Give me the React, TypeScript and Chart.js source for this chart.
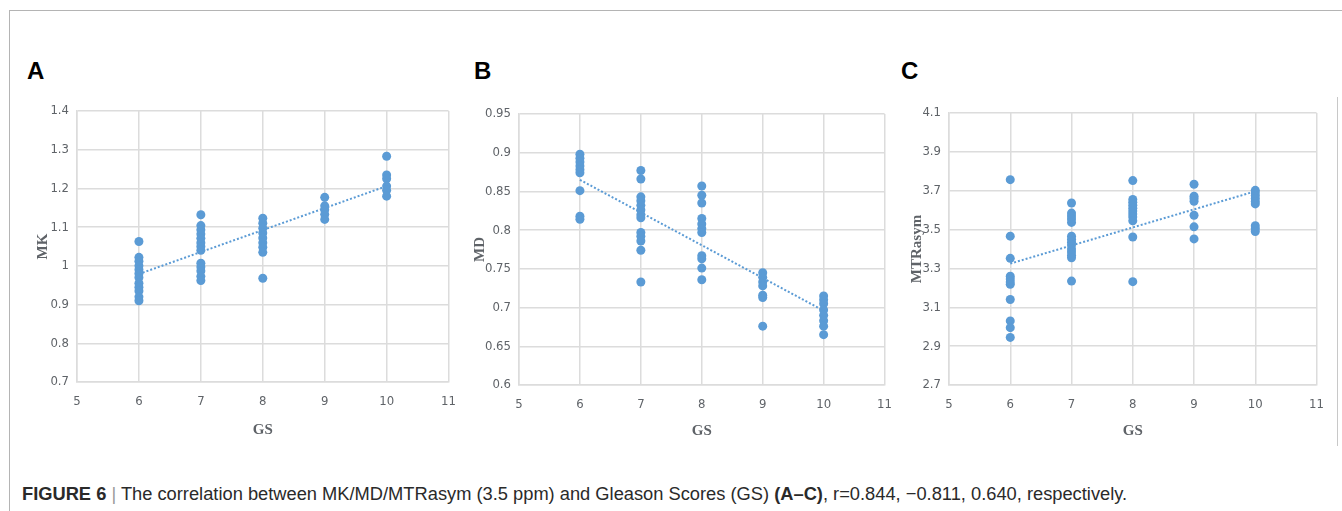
import React, { useEffect, useRef } from "react";
import { Chart, registerables } from "chart.js";
Chart.register(...registerables);

// ---------- data ----------
const gsLevels = [6, 7, 8, 9, 10];
const xTicks = [5, 6, 7, 8, 9, 10, 11];

const mkTicks = [0.7, 0.8, 0.9, 1, 1.1, 1.2, 1.3, 1.4];
const mkValues = [
  [1.063, 1.022, 1.012, 1.0, 0.99, 0.98, 0.97, 0.955, 0.945, 0.935, 0.92, 0.91],
  [1.132, 1.104, 1.093, 1.082, 1.071, 1.06, 1.05, 1.04, 1.007, 0.997, 0.987, 0.973, 0.962],
  [1.123, 1.11, 1.097, 1.085, 1.072, 1.06, 1.048, 1.035, 0.968],
  [1.177, 1.155, 1.145, 1.133, 1.12],
  [1.283, 1.235, 1.225, 1.206, 1.195, 1.18],
];
const mkTrend = [0.979, 1.206];

const mdTicks = [0.6, 0.65, 0.7, 0.75, 0.8, 0.85, 0.9, 0.95];
const mdValues = [
  [0.898, 0.893, 0.888, 0.883, 0.878, 0.874, 0.851, 0.818, 0.814],
  [0.877, 0.866, 0.843, 0.838, 0.832, 0.826, 0.82, 0.816, 0.797, 0.792, 0.786, 0.774, 0.733],
  [0.857, 0.845, 0.835, 0.815, 0.808, 0.802, 0.797, 0.767, 0.763, 0.751, 0.736],
  [0.745, 0.739, 0.733, 0.728, 0.716, 0.713, 0.676],
  [0.715, 0.71, 0.705, 0.697, 0.69, 0.683, 0.676, 0.665],
];
const mdTrend = [0.865, 0.696];

const mtrTicks = [2.7, 2.9, 3.1, 3.3, 3.5, 3.7, 3.9, 4.1];
const mtrValues = [
  [3.757, 3.466, 3.352, 3.26, 3.245, 3.23, 3.218, 3.14, 3.03, 2.995, 2.945],
  [3.637, 3.585, 3.57, 3.555, 3.537, 3.466, 3.45, 3.435, 3.42, 3.4, 3.385, 3.368, 3.355, 3.235],
  [3.752, 3.655, 3.64, 3.625, 3.61, 3.595, 3.58, 3.565, 3.545, 3.462, 3.232],
  [3.733, 3.672, 3.66, 3.646, 3.574, 3.514, 3.452],
  [3.702, 3.69, 3.675, 3.66, 3.645, 3.632, 3.52, 3.505, 3.49],
];
const mtrTrend = [3.325, 3.697];

// ---------- styles ----------
const BLUE = "#5b9bd5";
const GRID = "#dcdcdc";
const TICK_COLOR = "#5f6368";
const TICK_FONT = { family: "'Liberation Sans Narrow', 'DejaVu Sans Condensed', sans-serif", size: 13, lineHeight: 1.2 };
const TITLE_FONT = { family: "'Liberation Serif', 'DejaVu Serif', serif", size: 15, weight: "bold" as const, lineHeight: 1.2 };

type Area = { l: number; t: number; r: number; b: number };

function Panel(props: {
  area: Area;
  yTicks: number[];
  values: number[][];
  trend: number[];
  yTitle: string;
  yTitleX: number;
  xTitleY: number;
}) {
  const { area, yTicks, values, trend, yTitle, yTitleX, xTitleY } = props;
  const ref = useRef<HTMLCanvasElement | null>(null);
  const cLeft = area.l - 70;
  const cTop = 95;
  const cRight = area.r + 12;
  const cBottom = area.b + 62;
  const w = cRight - cLeft;
  const h = cBottom - cTop;

  useEffect(() => {
    if (!ref.current) return;
    const points: { x: number; y: number }[] = [];
    gsLevels.forEach((g, i) => values[i].forEach((v) => points.push({ x: g, y: v })));
    const half = (TITLE_FONT.size * TITLE_FONT.lineHeight) / 2;
    const chart = new Chart(ref.current, {
      type: "scatter",
      data: {
        datasets: [
          {
            data: [
              { x: gsLevels[0], y: trend[0] },
              { x: gsLevels[gsLevels.length - 1], y: trend[1] },
            ],
            showLine: true,
            borderColor: BLUE,
            borderWidth: 2,
            borderDash: [2, 2],
            pointRadius: 0,
            fill: false,
          } as any,
          {
            data: points,
            backgroundColor: BLUE,
            borderColor: BLUE,
            borderWidth: 0,
            pointRadius: 4.5,
          },
        ],
      },
      options: {
        animation: false,
        responsive: true,
        maintainAspectRatio: false,
        layout: { padding: { left: 0, top: area.t - cTop, right: cRight - area.r, bottom: 0 } },
        plugins: { legend: { display: false }, tooltip: { enabled: false } },
        events: [],
        scales: {
          x: {
            type: "linear",
            min: xTicks[0],
            max: xTicks[xTicks.length - 1],
            afterBuildTicks: (s: any) => {
              s.ticks = xTicks.map((v) => ({ value: v }));
            },
            afterFit: (s: any) => {
              s.height = cBottom - area.b;
            },
            grid: { color: GRID, lineWidth: 1.5, drawTicks: false },
            border: { display: true, color: GRID, width: 1.5 },
            ticks: { color: TICK_COLOR, font: TICK_FONT, padding: 12, callback: (v: any) => String(v), maxRotation: 0 },
            title: {
              display: true,
              text: "GS",
              color: TICK_COLOR,
              font: TITLE_FONT,
              padding: { top: 0, bottom: cBottom - xTitleY - half },
            },
          },
          y: {
            type: "linear",
            min: yTicks[0],
            max: yTicks[yTicks.length - 1],
            afterBuildTicks: (s: any) => {
              s.ticks = yTicks.map((v) => ({ value: v }));
            },
            afterFit: (s: any) => {
              s.width = area.l - cLeft;
            },
            grid: { color: GRID, lineWidth: 1.5, drawTicks: false },
            border: { display: true, color: GRID, width: 1.5 },
            ticks: { color: TICK_COLOR, font: TICK_FONT, padding: 8, callback: (v: any) => String(v) },
            title: {
              display: true,
              text: yTitle,
              color: TICK_COLOR,
              font: TITLE_FONT,
              padding: { top: yTitleX - cLeft - half, bottom: 0 },
            },
          },
        },
      } as any,
    });
    return () => chart.destroy();
  }, []);

  return (
    <div style={{ position: "absolute", left: cLeft, top: cTop, width: w, height: h }}>
      <canvas ref={ref} />
    </div>
  );
}

const letterStyle: React.CSSProperties = {
  position: "absolute",
  top: 59,
  fontFamily: "'Liberation Sans', Arial, sans-serif",
  fontWeight: "bold",
  fontSize: 24,
  lineHeight: "24px",
  color: "#000",
};

export default function App() {
  return (
    <div style={{ position: "absolute", left: 0, top: 0, width: 1342, height: 511, background: "#fff", overflow: "hidden" }}>
      {/* frame lines */}
      <div style={{ position: "absolute", left: 9, top: 10, width: 1333, height: 1, background: "#b4b4b4" }} />
      <div style={{ position: "absolute", left: 9, top: 10, width: 1, height: 501, background: "#b4b4b4" }} />
      <div style={{ position: "absolute", left: 1337, top: 97, width: 1, height: 349, background: "#c8c8c8" }} />

      <div style={{ ...letterStyle, left: 27 }}>A</div>
      <div style={{ ...letterStyle, left: 474 }}>B</div>
      <div style={{ ...letterStyle, left: 901 }}>C</div>

      <Panel area={{ l: 77, t: 111, r: 456, b: 382 }} yTicks={mkTicks} values={mkValues} trend={mkTrend} yTitle="MK" yTitleX={43} xTitleY={430} />
      <Panel area={{ l: 519, t: 114, r: 892, b: 385 }} yTicks={mdTicks} values={mdValues} trend={mdTrend} yTitle="MD" yTitleX={480} xTitleY={431} />
      <Panel area={{ l: 949, t: 113, r: 1324, b: 385 }} yTicks={mtrTicks} values={mtrValues} trend={mtrTrend} yTitle="MTRasym" yTitleX={917} xTitleY={431} />

      <div
        style={{
          position: "absolute",
          left: 22,
          top: 485,
          fontFamily: "'Liberation Sans', Arial, sans-serif",
          fontSize: 18.3,
          lineHeight: "18px",
          color: "#2a2a2a",
          whiteSpace: "nowrap",
        }}
      >
        <b>FIGURE 6</b>
        <span style={{ color: "#999" }}> | </span>
        The correlation between MK/MD/MTRasym (3.5 ppm) and Gleason Scores (GS) <b>(A–C)</b>, r=0.844, −0.811, 0.640,
        respectively.
      </div>
    </div>
  );
}
